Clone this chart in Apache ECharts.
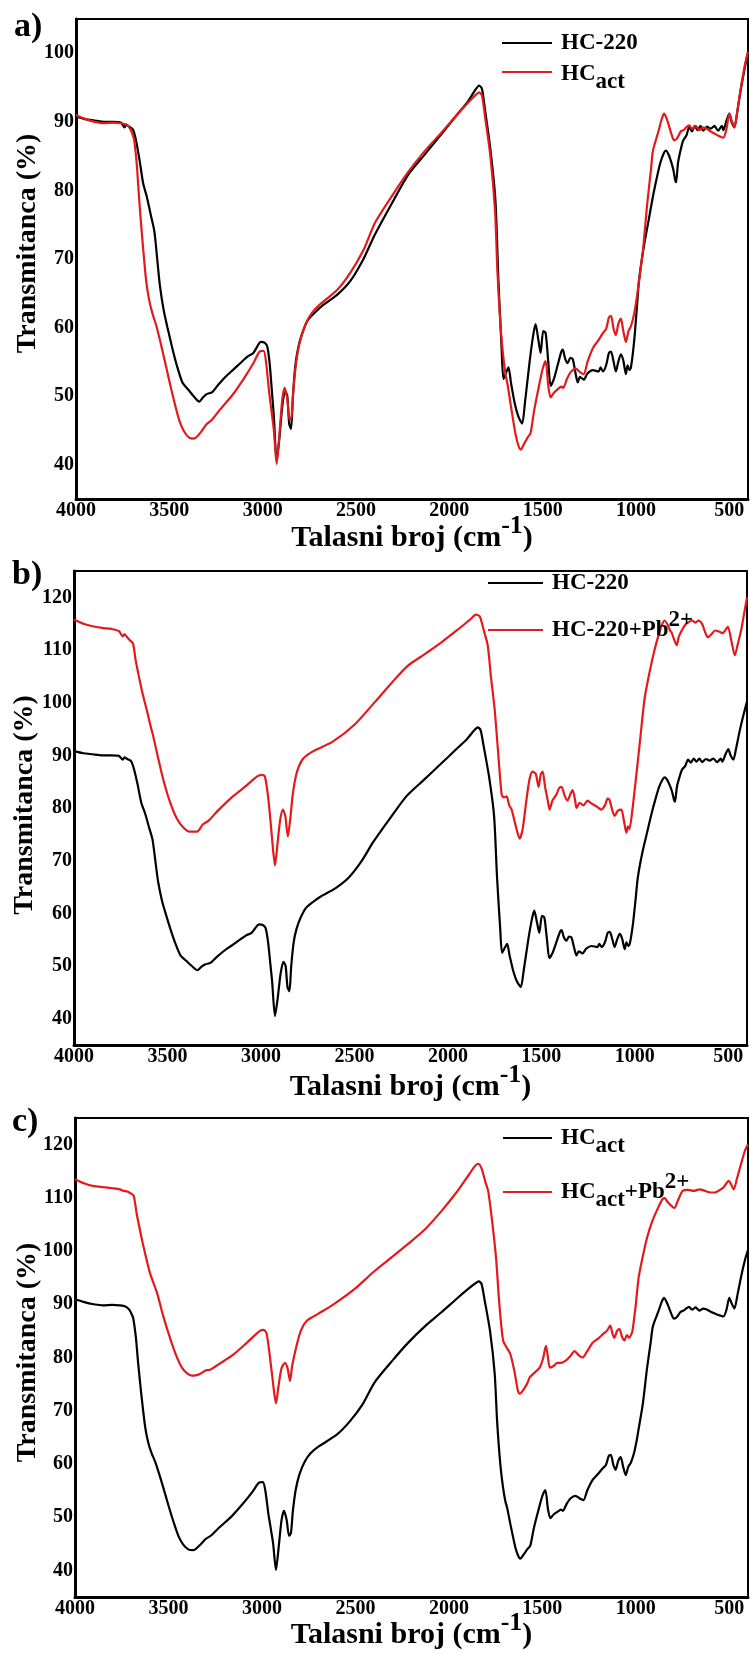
<!DOCTYPE html>
<html>
<head>
<meta charset="utf-8">
<script src="https://cdn.jsdelivr.net/npm/echarts@6/dist/echarts.min.js"></script>
<style>
  html, body { margin: 0; padding: 0; background: #fff; }
  #chart { width: 750px; height: 1654px; }
</style>
</head>
<body>
<div id="chart"></div>
<script>
// FTIR spectra: wavenumber (cm^-1) vs transmittance (%)
const xTicks = [500, 1000, 1500, 2000, 2500, 3000, 3500, 4000];
const yTicksA = [40, 50, 60, 70, 80, 90, 100];
const yTicksBC = [40, 50, 60, 70, 80, 90, 100, 110, 120];

// HC-220 hydrochar
const hc220 = [
  [4000, 90.8], [3950, 90.4], [3900, 90.2], [3850, 90.0], [3800, 90.0], [3760, 89.9], [3740, 89.2], [3730, 89.6],
  [3715, 89.3], [3695, 88.9], [3680, 87.5], [3660, 84.5], [3640, 81.0], [3620, 79.0], [3600, 76.5], [3580, 74.0],
  [3565, 70.0], [3550, 66.0], [3530, 62.5], [3510, 60.0], [3484, 57.0], [3460, 54.5], [3430, 52.0], [3400, 51.0],
  [3370, 50.0], [3340, 49.2], [3320, 49.8], [3300, 50.3], [3270, 50.6], [3240, 51.6], [3200, 52.8], [3160, 53.8],
  [3120, 54.8], [3080, 55.8], [3050, 56.3], [3030, 57.2], [3010, 57.9], [2990, 57.8], [2975, 57.2], [2962, 54.6],
  [2950, 50.5], [2940, 47.0], [2925, 40.5], [2910, 44.0], [2895, 48.5], [2880, 50.8], [2868, 50.0], [2858, 46.0],
  [2848, 45.2], [2838, 50.0], [2825, 54.5], [2810, 57.0], [2790, 59.0], [2760, 61.0], [2720, 62.2], [2680, 63.2],
  [2600, 64.8], [2530, 66.8], [2460, 70.0], [2400, 73.5], [2300, 78.5], [2220, 82.3], [2130, 85.3], [2040, 88.3],
  [1960, 91.0], [1900, 93.0], [1860, 94.7], [1840, 95.3], [1825, 94.8], [1810, 92.0], [1780, 86.0], [1753, 78.5],
  [1737, 66.8], [1720, 57.0], [1710, 52.5], [1695, 53.5], [1683, 54.2], [1670, 52.0], [1650, 49.0], [1630, 47.0],
  [1610, 46.0], [1595, 49.0], [1570, 55.0], [1550, 59.0], [1538, 60.5], [1522, 58.0], [1511, 56.3], [1497, 59.5],
  [1484, 59.2], [1470, 55.0], [1457, 51.5], [1440, 52.5], [1420, 54.5], [1400, 56.5], [1392, 56.8], [1380, 55.5],
  [1366, 54.8], [1352, 55.6], [1339, 55.4], [1325, 53.5], [1312, 52.0], [1300, 52.8], [1280, 52.4], [1260, 53.3],
  [1231, 53.8], [1200, 53.6], [1190, 54.2], [1177, 53.6], [1160, 54.5], [1145, 56.3], [1134, 56.5], [1120, 55.0],
  [1108, 53.6], [1095, 55.0], [1081, 56.1], [1068, 55.2], [1054, 53.2], [1045, 54.5], [1035, 53.8], [1027, 54.2],
  [1010, 58.0], [995, 63.0], [984, 66.8], [960, 71.5], [930, 76.0], [910, 79.0], [892, 81.4], [870, 84.0],
  [850, 85.5], [839, 85.8], [825, 85.2], [812, 84.2], [800, 83.0], [790, 81.5], [785, 81.2], [775, 84.0],
  [760, 86.0], [747, 87.3], [730, 88.0], [715, 89.2], [700, 88.6], [685, 89.4], [670, 88.8], [655, 89.4],
  [640, 88.7], [620, 89.3], [600, 89.0], [580, 89.4], [560, 88.7], [540, 89.4], [532, 88.8], [515, 90.2],
  [500, 91.2], [488, 90.0], [473, 89.2], [460, 91.0], [440, 94.5], [420, 97.5], [400, 100.2]
];

// activated hydrochar
const hcAct = [
  [4000, 91.0], [3950, 90.4], [3900, 90.0], [3850, 89.8], [3800, 89.9], [3760, 89.8], [3730, 89.6], [3710, 89.0],
  [3695, 88.0], [3688, 87.3], [3675, 84.0], [3661, 78.5], [3645, 73.0], [3624, 66.8], [3608, 64.0], [3590, 62.0],
  [3570, 60.3], [3540, 57.0], [3500, 52.2], [3470, 48.8], [3446, 46.4], [3420, 44.8], [3392, 43.9], [3370, 43.8],
  [3355, 44.0], [3330, 44.8], [3301, 45.9], [3270, 46.6], [3230, 48.0], [3161, 50.2], [3100, 52.6], [3050, 54.8],
  [3016, 56.5], [2995, 56.6], [2982, 55.0], [2965, 50.5], [2952, 47.7], [2940, 45.0], [2925, 40.1], [2910, 44.5],
  [2895, 49.5], [2882, 51.2], [2868, 49.5], [2855, 46.5], [2845, 47.0], [2835, 51.0], [2820, 55.0], [2800, 58.0],
  [2770, 60.5], [2740, 62.0], [2700, 63.2], [2600, 65.5], [2530, 68.0], [2460, 71.3], [2398, 75.3], [2300, 79.5],
  [2220, 82.7], [2130, 85.8], [2040, 88.5], [1960, 91.0], [1900, 92.8], [1860, 93.9], [1840, 94.3], [1825, 93.8],
  [1810, 91.0], [1780, 85.0], [1755, 77.0], [1742, 68.0], [1725, 60.0], [1710, 55.5], [1698, 53.0], [1688, 51.7],
  [1670, 48.5], [1645, 44.4], [1630, 42.8], [1618, 42.2], [1600, 43.0], [1580, 44.0], [1565, 44.6], [1545, 48.0],
  [1522, 51.2], [1500, 54.0], [1484, 55.1], [1470, 51.5], [1457, 49.8], [1440, 50.5], [1420, 51.0], [1400, 51.4],
  [1390, 51.2], [1370, 52.5], [1350, 53.5], [1323, 54.0], [1300, 53.5], [1280, 53.2], [1260, 55.0], [1231, 57.0],
  [1200, 58.2], [1177, 59.2], [1160, 59.8], [1145, 61.5], [1134, 61.7], [1120, 59.8], [1108, 58.9], [1095, 60.5],
  [1081, 61.3], [1068, 59.5], [1054, 57.9], [1040, 59.5], [1027, 60.2], [1010, 62.0], [995, 64.5], [984, 66.8],
  [963, 71.2], [940, 78.0], [920, 83.0], [909, 85.8], [880, 88.6], [860, 90.6], [849, 91.2], [830, 90.0],
  [810, 88.2], [796, 87.3], [780, 87.6], [760, 88.6], [745, 88.8], [731, 89.2], [715, 89.5], [700, 89.0],
  [680, 89.4], [660, 88.8], [640, 89.2], [620, 89.0], [600, 88.6], [580, 88.3], [560, 88.0], [532, 87.7],
  [515, 89.0], [500, 91.2], [488, 90.2], [473, 89.2], [455, 92.0], [435, 95.5], [415, 98.5], [400, 100.2]
];

// HC-220 after Pb(II) sorption
const hc220Pb = [
  [4000, 115.8], [3950, 115.0], [3900, 114.5], [3850, 114.2], [3800, 114.0], [3760, 113.6], [3740, 112.6], [3730, 113.0],
  [3715, 112.4], [3700, 111.8], [3684, 111.2], [3670, 108.0], [3650, 104.5], [3631, 101.4], [3610, 98.5], [3590, 95.5],
  [3578, 93.9], [3550, 89.5], [3524, 85.6], [3490, 81.5], [3450, 78.0], [3415, 76.3], [3380, 75.5], [3342, 75.5],
  [3310, 76.9], [3280, 77.6], [3230, 79.5], [3150, 82.2], [3080, 84.2], [3020, 86.0], [2995, 86.3], [2979, 86.0],
  [2963, 82.5], [2950, 78.0], [2935, 72.0], [2925, 69.1], [2912, 73.0], [2898, 77.5], [2883, 79.7], [2870, 78.5],
  [2856, 74.6], [2843, 78.0], [2830, 82.5], [2810, 86.5], [2776, 89.3], [2720, 90.8], [2616, 92.6], [2500, 95.8],
  [2391, 100.1], [2300, 103.8], [2215, 107.0], [2120, 109.3], [2033, 111.5], [1950, 113.8], [1880, 115.8], [1850, 116.7],
  [1830, 116.4], [1810, 114.0], [1787, 110.9], [1770, 105.0], [1750, 98.8], [1730, 90.0], [1712, 82.5], [1700, 82.0],
  [1686, 82.2], [1672, 80.5], [1659, 79.7], [1640, 77.0], [1616, 74.2], [1600, 76.0], [1580, 81.5], [1563, 85.5],
  [1547, 86.9], [1530, 86.5], [1515, 84.0], [1503, 86.4], [1493, 86.9], [1480, 84.0], [1466, 81.5], [1456, 79.7],
  [1440, 81.5], [1420, 82.5], [1405, 83.8], [1392, 84.0], [1375, 82.3], [1360, 81.4], [1345, 82.6], [1333, 83.4],
  [1320, 81.6], [1312, 80.0], [1295, 81.0], [1275, 80.5], [1253, 81.4], [1230, 80.8], [1205, 80.3], [1179, 79.7],
  [1160, 80.5], [1145, 81.8], [1136, 81.6], [1120, 79.5], [1109, 78.5], [1090, 79.5], [1072, 79.7], [1058, 77.5],
  [1045, 75.3], [1037, 76.5], [1029, 76.0], [1012, 80.0], [992, 86.3], [970, 93.5], [948, 100.7], [920, 106.0],
  [894, 110.1], [870, 113.2], [855, 114.8], [841, 115.6], [825, 114.8], [810, 113.6], [803, 113.3], [790, 112.0],
  [776, 110.9], [765, 112.5], [749, 113.7], [730, 114.8], [712, 115.3], [694, 115.6], [675, 115.2], [660, 115.6],
  [641, 115.0], [625, 113.5], [609, 112.4], [590, 113.0], [571, 113.7], [550, 113.5], [530, 113.2], [515, 113.8],
  [502, 114.4], [485, 112.0], [465, 109.0], [450, 111.0], [430, 114.0], [415, 117.0], [400, 120.0]
];

// activated hydrochar after Pb(II) sorption
const hcActPb = [
  [4000, 113.5], [3950, 112.7], [3900, 112.2], [3850, 112.0], [3800, 111.8], [3760, 111.6], [3740, 111.3], [3720, 111.2],
  [3700, 110.8], [3686, 110.4], [3670, 107.0], [3650, 103.5], [3632, 100.6], [3600, 96.0], [3560, 92.0], [3530, 88.0],
  [3492, 83.7], [3460, 80.5], [3428, 78.1], [3400, 77.0], [3375, 76.6], [3350, 76.7], [3332, 76.9], [3300, 77.6],
  [3278, 77.7], [3220, 79.0], [3155, 80.5], [3080, 82.8], [3011, 85.0], [2990, 85.2], [2975, 84.5], [2957, 80.0],
  [2945, 76.5], [2935, 73.5], [2925, 71.4], [2912, 74.5], [2895, 78.0], [2877, 79.0], [2863, 78.0], [2850, 75.6],
  [2838, 78.5], [2813, 82.5], [2790, 85.2], [2760, 86.9], [2700, 88.2], [2621, 89.9], [2500, 93.0], [2396, 96.3],
  [2300, 99.0], [2220, 101.3], [2130, 104.0], [2040, 107.5], [1960, 111.0], [1900, 114.0], [1860, 116.0], [1844, 116.4],
  [1825, 115.5], [1805, 113.0], [1790, 111.3], [1770, 106.0], [1748, 98.8], [1730, 90.0], [1710, 83.2], [1690, 81.8],
  [1672, 80.7], [1650, 77.5], [1631, 73.8], [1621, 73.2], [1600, 74.0], [1580, 75.2], [1567, 76.3], [1540, 77.2],
  [1514, 78.1], [1495, 80.0], [1481, 82.2], [1470, 80.0], [1460, 78.1], [1440, 78.4], [1420, 79.0], [1400, 79.0],
  [1375, 79.4], [1350, 80.3], [1328, 81.2], [1305, 80.4], [1284, 80.0], [1260, 81.2], [1230, 82.8], [1200, 83.6],
  [1176, 84.4], [1155, 85.0], [1137, 86.0], [1125, 84.5], [1115, 83.7], [1100, 85.0], [1088, 85.4], [1075, 84.0],
  [1061, 83.2], [1048, 84.2], [1035, 83.7], [1025, 84.3], [1018, 85.0], [1000, 90.0], [985, 95.0], [964, 98.8],
  [940, 102.5], [911, 105.7], [880, 108.2], [860, 109.6], [847, 110.0], [830, 109.2], [810, 108.5], [794, 108.1],
  [775, 109.5], [750, 111.3], [720, 111.5], [690, 111.3], [659, 111.6], [630, 111.3], [600, 111.0], [578, 111.0],
  [550, 111.5], [530, 112.0], [503, 113.2], [490, 112.5], [476, 111.6], [460, 113.5], [440, 116.0], [417, 118.8],
  [400, 120.0]
];

const FONT = "'Liberation Serif', 'Times New Roman', serif";
const BLACK = '#000000';
const RED = '#e31a1c';

// panel geometry
const grids = [
  { left: 76, top: 19, width: 672, height: 480, yMin: 35, yMax: 105, yTicks: yTicksA, nameGap: 14 },
  { left: 74, top: 571, width: 673, height: 474, yMin: 35, yMax: 125, yTicks: yTicksBC, nameGap: 17 },
  { left: 75, top: 1118, width: 673, height: 479, yMin: 35, yMax: 125, yTicks: yTicksBC, nameGap: 13 }
];

const legendText = {
  'a-hc220': '{m|HC-220}',
  'a-hcact': '{m|HC}{d|act}',
  'b-hc220': '{m|HC-220}',
  'b-hc220pb': '{m|HC-220+Pb}{u|2+}',
  'c-hcact': '{m|HC}{d|act}',
  'c-hcactpb': '{m|HC}{d|act}{m2|+Pb}{u|2+}'
};

// main / subscript / superscript fragments share one size, shifted by padding
function legendRich(mainPad, subPad, supPad) {
  const base = { fontFamily: FONT, fontWeight: 'bold', fontSize: 23, color: '#000', height: 22, verticalAlign: 'top' };
  return {
    m: Object.assign({}, base, { padding: [mainPad[0], 0, mainPad[1], 4] }),
    m2: Object.assign({}, base, { padding: [mainPad[0], 0, mainPad[1], 0] }),
    d: Object.assign({}, base, { padding: [subPad[0], 0, subPad[1], 0] }),
    u: Object.assign({}, base, { padding: [supPad[0], 0, supPad[1], 0] })
  };
}

function makeLegend(name, left, top, width, rich) {
  return {
    data: [name],
    left: left, top: top,
    orient: 'horizontal',
    padding: 0,
    icon: 'rect',
    itemWidth: width, itemHeight: 2,
    selectedMode: false,
    formatter: n => legendText[n],
    textStyle: { rich: rich }
  };
}

const xAxes = grids.map((g, i) => ({
  gridIndex: i, type: 'value', min: 400, max: 4000, inverse: true,
  axisLine: { onZero: false, lineStyle: { color: BLACK, width: 3 } },
  axisTick: { show: false }, splitLine: { show: false },
  axisLabel: {
    customValues: xTicks, formatter: v => String(v),
    color: BLACK, fontFamily: FONT, fontWeight: 'bold', fontSize: 20, margin: 2
  },
  name: '{t|Talasni broj (cm}{s|-1}{t|)}',
  nameLocation: 'middle', nameGap: g.nameGap, nameMoveOverlap: false,
  nameTextStyle: {
    rich: {
      t: { fontFamily: FONT, fontWeight: 'bold', fontSize: 30, color: BLACK, height: 30, padding: [10, 0, 0, 0], verticalAlign: 'top' },
      s: { fontFamily: FONT, fontWeight: 'bold', fontSize: 26, color: BLACK, height: 26, padding: [0, 0, 0, 0], verticalAlign: 'top' }
    }
  }
}));

const yAxes = grids.map((g, i) => ({
  gridIndex: i, type: 'value', min: g.yMin, max: g.yMax,
  axisLine: { show: true, onZero: false, lineStyle: { color: BLACK, width: 3 } },
  axisTick: { show: false }, splitLine: { show: false },
  axisLabel: {
    customValues: g.yTicks, formatter: v => String(v),
    color: BLACK, fontFamily: FONT, fontWeight: 'bold', fontSize: 20, margin: 2
  }
}));

function line(name, data, color, idx) {
  return {
    name: name, type: 'line', data: data, xAxisIndex: idx, yAxisIndex: idx,
    showSymbol: false, smooth: 0.25, lineStyle: { color: color, width: 2.2 }, itemStyle: { color: color },
    z: color === RED ? 3 : 2
  };
}

const yTitle = (x, y) => ({
  type: 'text', x: x, y: y, rotation: Math.PI / 2,
  style: { text: 'Transmitanca (%)', font: 'bold 28px ' + FONT, fill: BLACK, align: 'center', verticalAlign: 'middle' }
});
const panelTag = (txt, x, y) => ({
  type: 'text', x: x, y: y,
  style: { text: txt, font: 'bold 34px ' + FONT, fill: BLACK, verticalAlign: 'middle' }
});

const option = {
  animation: false,
  backgroundColor: '#fff',
  grid: grids.map(g => ({
    left: g.left, top: g.top, width: g.width, height: g.height,
    show: true, borderColor: BLACK, borderWidth: 2, backgroundColor: 'transparent',
    containLabel: false, outerBoundsMode: 'none'
  })),
  xAxis: xAxes,
  yAxis: yAxes,
  legend: [
    makeLegend('a-hc220', 502, 31.5, 50, legendRich([0, 0], [0, 0], [0, 0])),
    makeLegend('a-hcact', 502, 63, 50, legendRich([13, 8], [21, 0], [0, 0])),
    makeLegend('b-hc220', 488, 571.5, 55, legendRich([0, 0], [0, 0], [0, 0])),
    makeLegend('b-hc220pb', 488, 608.5, 55, legendRich([10, 10], [0, 0], [0, 20])),
    makeLegend('c-hcact', 503, 1126.5, 49, legendRich([8, 8], [16, 0], [0, 0])),
    makeLegend('c-hcactpb', 503, 1170.5, 49, legendRich([10, 10], [18, 2], [0, 20]))
  ],
  series: [
    line('a-hc220', hc220, BLACK, 0),
    line('a-hcact', hcAct, RED, 0),
    line('b-hc220', hc220, BLACK, 1),
    line('b-hc220pb', hc220Pb, RED, 1),
    line('c-hcact', hcAct, BLACK, 2),
    line('c-hcactpb', hcActPb, RED, 2)
  ],
  graphic: [
    panelTag('a)', 14, 27),
    panelTag('b)', 12, 575),
    panelTag('c)', 12, 1122),
    yTitle(28, 243.5),
    yTitle(25, 805),
    yTitle(28, 1352.5)
  ]
};

const chart = echarts.init(document.getElementById('chart'), null, { renderer: 'canvas' });
chart.setOption(option);
</script>
</body>
</html>
